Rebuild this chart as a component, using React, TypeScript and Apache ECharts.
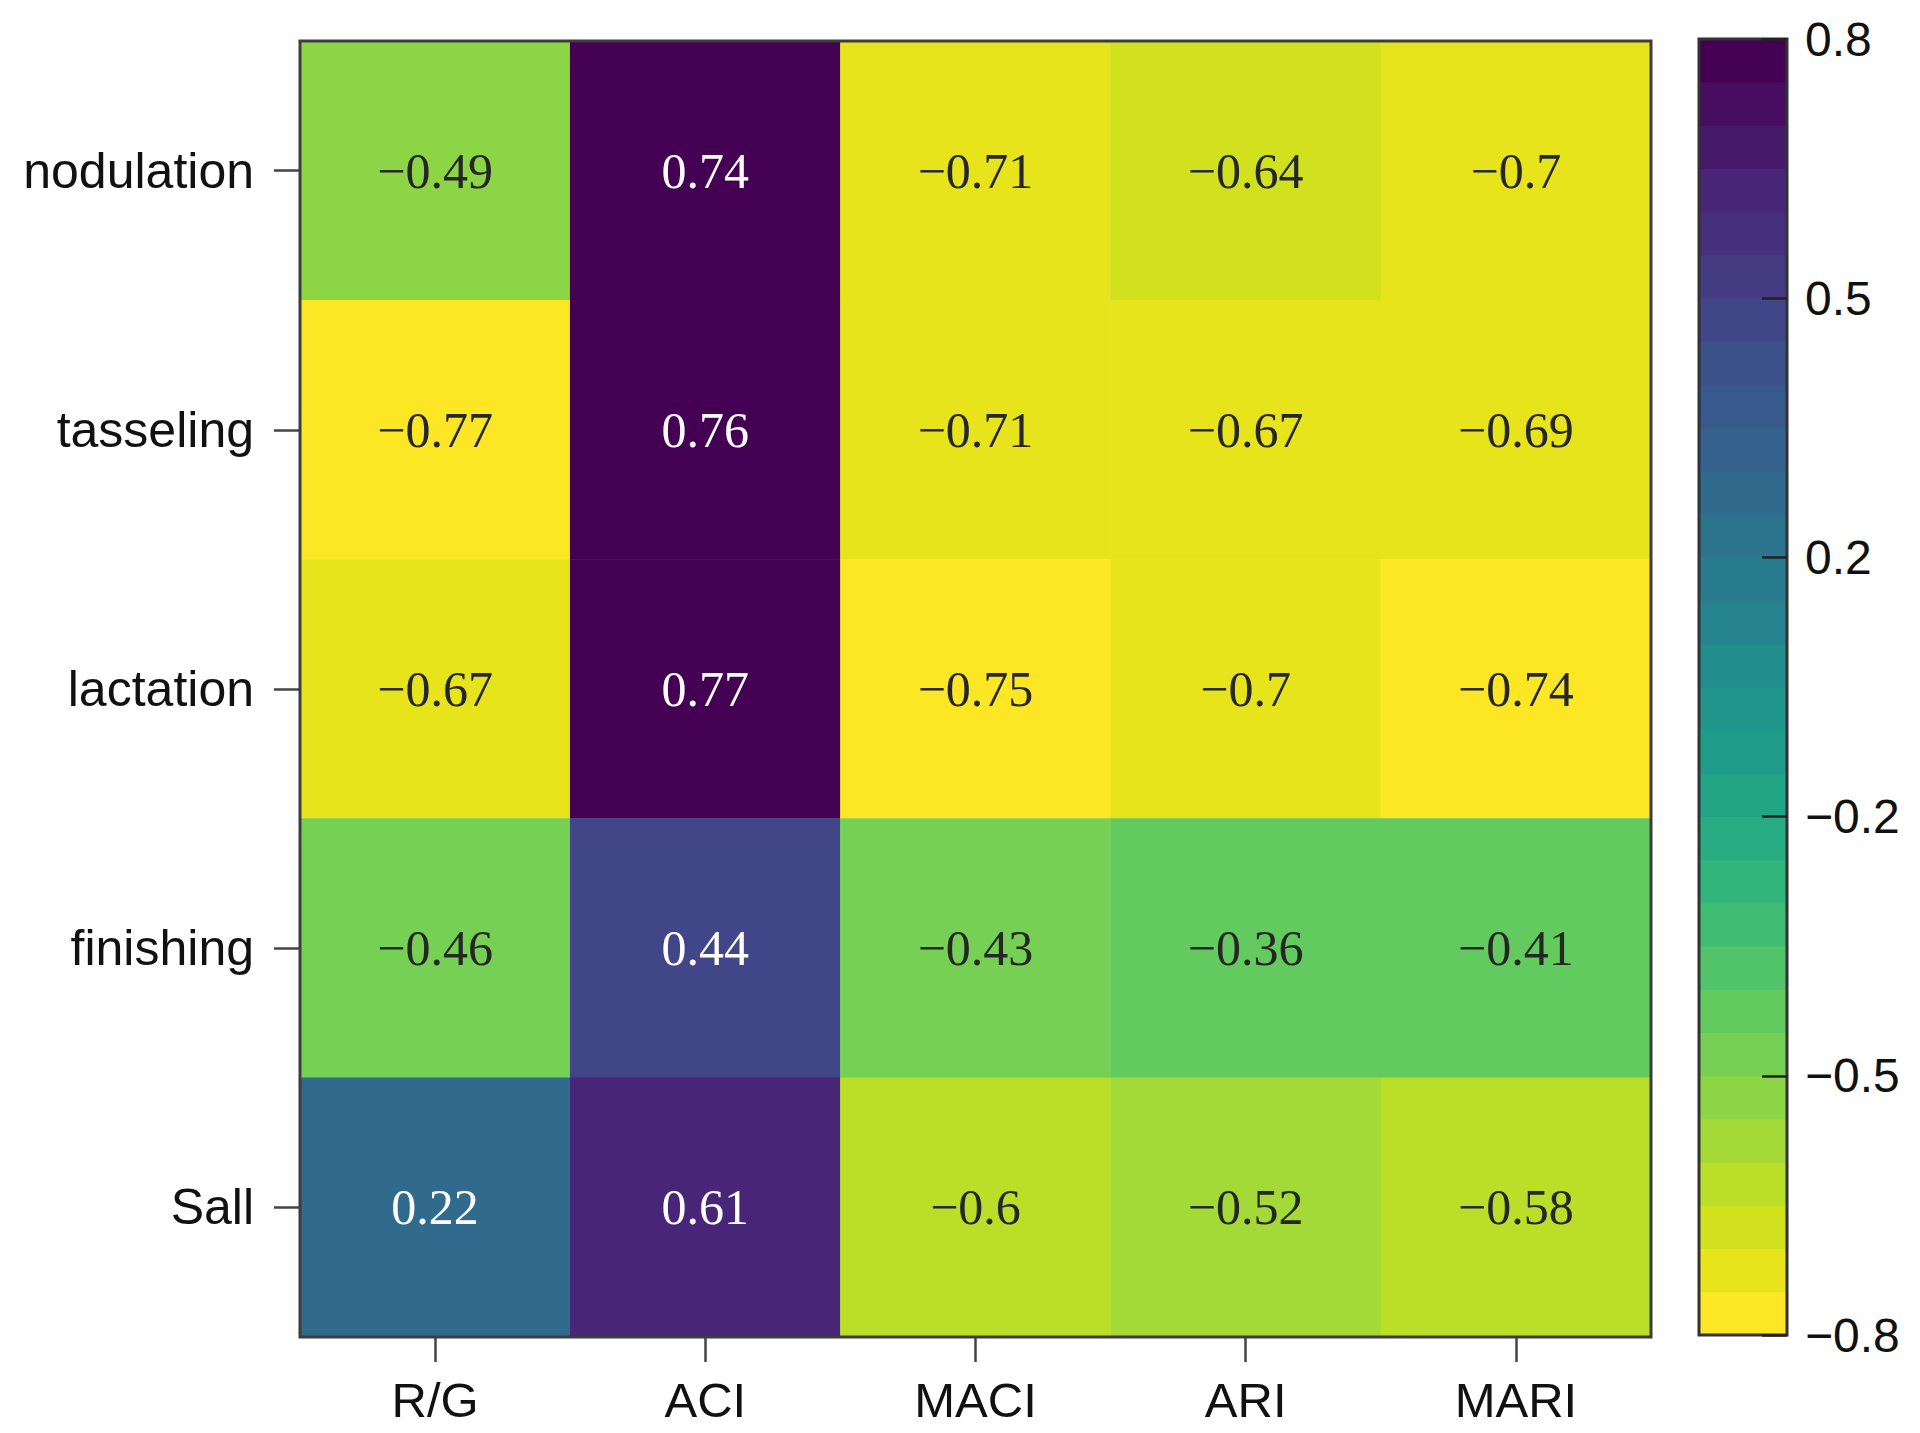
import React, { useEffect, useRef } from "react";
import * as echarts from "echarts";

// ---------- data ----------
const stages = ["nodulation", "tasseling", "lactation", "finishing", "Sall"];
const indices = ["R/G", "ACI", "MACI", "ARI", "MARI"];
const rgValues = [-0.49, -0.77, -0.67, -0.46, 0.22];
const aciValues = [0.74, 0.76, 0.77, 0.44, 0.61];
const maciValues = [-0.71, -0.71, -0.75, -0.43, -0.6];
const ariValues = [-0.64, -0.67, -0.7, -0.36, -0.52];
const mariValues = [-0.7, -0.69, -0.74, -0.41, -0.58];
const columns = [rgValues, aciValues, maciValues, ariValues, mariValues];

const colorMin = -0.77;
const colorMax = 0.77;
const colorTickValues = [-0.77, -0.462, -0.154, 0.154, 0.462, 0.77];
const colorTickLabels = ["\u22120.8", "\u22120.5", "\u22120.2", "0.2", "0.5", "0.8"];
const bandCount = 30;

// ---------- palette (viridis reference stops) ----------
const viridisStops = [
  "#440154", "#471365", "#482475", "#463480", "#414487", "#3B528B", "#355F8D",
  "#2F6C8E", "#2A788E", "#25848E", "#21918C", "#1E9C89", "#22A884", "#2FB47C",
  "#44BF70", "#5EC962", "#7AD151", "#9BD93C", "#BDDF26", "#DFE318", "#FDE725",
];

function hexToRgb(h: string) {
  return [parseInt(h.slice(1, 3), 16), parseInt(h.slice(3, 5), 16), parseInt(h.slice(5, 7), 16)];
}
function viridis(t: number) {
  const pos = Math.max(0, Math.min(1, t)) * (viridisStops.length - 1);
  const i = Math.min(Math.floor(pos), viridisStops.length - 2);
  const f = pos - i;
  const a = hexToRgb(viridisStops[i]);
  const b = hexToRgb(viridisStops[i + 1]);
  const c = a.map((v, k) => Math.round(v + (b[k] - v) * f));
  return `rgb(${c[0]},${c[1]},${c[2]})`;
}
// reversed viridis, band 0 = lowest value (yellow)
const bandColors: string[] = [];
for (let i = 0; i < bandCount; i++) bandColors.push(viridis((bandCount - 1 - i) / (bandCount - 1)));

const bandWidth = (colorMax - colorMin) / bandCount;
const pieces = bandColors.map((color, i) => {
  const lo = colorMin + i * bandWidth;
  const hi = colorMin + (i + 1) * bandWidth;
  return i === 0
    ? { lt: hi, color }
    : i === bandCount - 1
    ? { gte: lo, color }
    : { gte: lo, lt: hi, color };
});
const bands = bandColors.map((_, i) => [colorMin + i * bandWidth, colorMin + (i + 1) * bandWidth, i]);

function fmt(v: number) {
  return (v < 0 ? "\u2212" : "") + String(Math.abs(v));
}

const heatData: any[] = [];
columns.forEach((col, x) => {
  col.forEach((v, y) => {
    heatData.push({
      value: [x, y, v],
      label: { color: v > 0 ? "#ffffff" : "#262626" },
    });
  });
});

const sans = "'Liberation Sans', Arial, sans-serif";
const serif = "'Liberation Serif', 'Times New Roman', serif";

export default function App() {
  const ref = useRef<HTMLDivElement>(null);
  useEffect(() => {
    if (!ref.current) return;
    const chart = echarts.init(ref.current, undefined, { renderer: "svg" });
    chart.setOption({
      animation: false,
      backgroundColor: "#ffffff",
      grid: [
        {
          left: 300, right: 269, top: 41, bottom: 96,
          show: true, z: 10, backgroundColor: "transparent",
          borderColor: "#3d3d3d", borderWidth: 3,
        },
        {
          left: 1699, right: 133, top: 39, bottom: 98,
          show: true, z: 10, backgroundColor: "transparent",
          borderColor: "#333333", borderWidth: 3,
        },
      ],
      xAxis: [
        {
          type: "category", gridIndex: 0, data: indices,
          axisLine: { show: false },
          axisTick: { show: true, alignWithLabel: true, length: 25, lineStyle: { color: "#444", width: 2.5 } },
          axisLabel: { fontSize: 49, fontFamily: sans, color: "#111", margin: 38 },
          splitLine: { show: false },
        },
        { type: "value", gridIndex: 1, min: 0, max: 1, show: false },
      ],
      yAxis: [
        {
          type: "category", gridIndex: 0, data: stages, inverse: true,
          axisLine: { show: false },
          axisTick: { show: true, alignWithLabel: true, length: 26, lineStyle: { color: "#444", width: 2.5 } },
          axisLabel: { fontSize: 50, fontFamily: sans, color: "#111", margin: 46 },
          splitLine: { show: false },
        },
        {
          type: "value", gridIndex: 1, min: colorMin, max: colorMax, position: "right",
          z: 20,
          axisLine: { show: false, onZero: false },
          splitLine: { show: false },
          axisTick: {
            show: true, inside: true, length: 25,
            customValues: colorTickValues,
            lineStyle: { color: "#222", width: 2.5 },
          },
          axisLabel: {
            show: true, fontSize: 48, fontFamily: sans, color: "#111", margin: 18,
            customValues: colorTickValues,
            formatter: (v: number) => {
              let best = 0;
              colorTickValues.forEach((t, i) => {
                if (Math.abs(t - v) < Math.abs(colorTickValues[best] - v)) best = i;
              });
              return colorTickLabels[best];
            },
          },
        },
      ],
      visualMap: {
        type: "piecewise",
        show: false,
        dimension: 2,
        seriesIndex: 0,
        pieces,
      },
      series: [
        {
          type: "heatmap",
          xAxisIndex: 0,
          yAxisIndex: 0,
          data: heatData,
          label: {
            show: true,
            fontSize: 50,
            fontFamily: serif,
            formatter: (p: any) => fmt(p.value[2]),
          },
          itemStyle: { borderWidth: 0 },
        },
        {
          type: "custom",
          xAxisIndex: 1,
          yAxisIndex: 1,
          z: 2,
          data: bands,
          renderItem: (params: any, api: any) => {
            const p1 = api.coord([0, api.value(1)]);
            const p2 = api.coord([1, api.value(0)]);
            const idx = api.value(2);
            return {
              type: "rect",
              shape: { x: p1[0], y: p1[1] - 0.4, width: p2[0] - p1[0], height: p2[1] - p1[1] + 0.8 },
              style: { fill: bandColors[idx] },
            };
          },
        },
      ],
    });
    return () => chart.dispose();
  }, []);
  return (
    <div
      ref={ref}
      style={{ position: "fixed", left: 0, top: 0, width: "1920px", height: "1433px" }}
    />
  );
}
